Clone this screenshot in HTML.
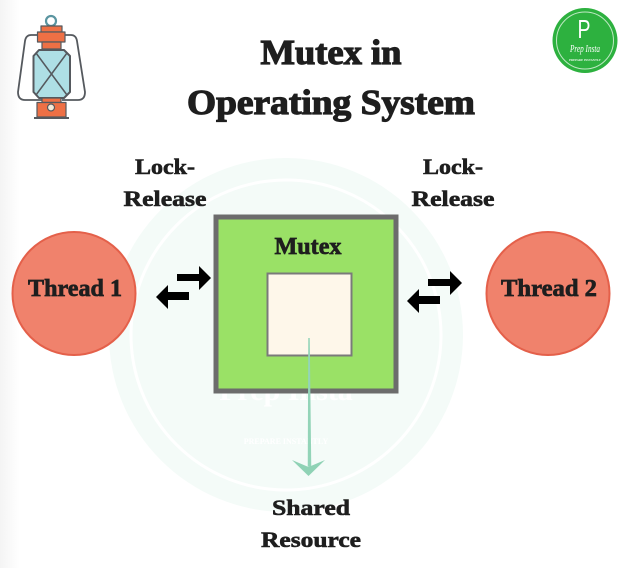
<!DOCTYPE html>
<html>
<head>
<meta charset="utf-8">
<style>
html,body{margin:0;padding:0;background:#fff}
svg{display:block}
text{font-family:"Liberation Serif",serif;font-weight:bold;fill:#1e1e1e;stroke:#1e1e1e;text-anchor:middle}
.t{font-size:35px;stroke-width:1.200px}
.l{font-size:22px;stroke-width:.6px}
.n{font-size:24px;stroke-width:.7px}
</style>
</head>
<body>
<svg width="632" height="568" viewBox="0 0 632 568" xmlns="http://www.w3.org/2000/svg">
<defs>
<linearGradient id="g" x1="0" x2="1" y1="0" y2="0"><stop offset="0" stop-color="#f4f4f4"/><stop offset="1" stop-color="#fff"/></linearGradient>
</defs>
<rect width="632" height="568" fill="#fff"/>
<rect width="20" height="568" fill="url(#g)"/>
<!-- watermark -->
<circle cx="286" cy="335" r="177" fill="#f4fbf8"/>
<circle cx="286" cy="335" r="155" fill="none" stroke="#fff" stroke-width="3"/>
<text x="286" y="400" font-size="30" style="fill:#fff;stroke:none">Prep Insta</text>
<text x="286" y="444" font-size="8" style="fill:#fff;stroke:none">PREPARE INSTANTLY</text>
<!-- lantern -->
<g stroke="#55595e" stroke-linejoin="round">
<path d="M38 35 H31 Q26 35 25 41 L18 92 Q18 100 25 100 H42 M65 35 H71 Q76 35 77 41 L85 92 Q85 100 78 100 H62" fill="none" stroke-width="1.800"/>
<circle cx="51" cy="21" r="5" fill="none" stroke="#5a95a0" stroke-width="2.200"/>
<rect x="41" y="26" width="21" height="6" fill="#ee7045" stroke-width="1.200"/>
<rect x="37.500" y="32" width="27.500" height="10" fill="#ee7045" stroke-width="1.200"/>
<rect x="42" y="42" width="19" height="7" fill="#ee7045" stroke-width="1.200"/>
<path d="M39 50 H64 L70 56 V92 L64 98 H39 L33.500 92 V56 Z" fill="#aedfe5" stroke-width="2"/>
<path d="M36 53 L67 95 M67 53 L36 95" stroke-width="1.500" fill="none"/>
<rect x="42" y="98" width="19" height="4.500" fill="#ee7045" stroke-width="1.200"/>
<rect x="37" y="102.500" width="29" height="14.500" fill="#ee7045" stroke-width="1.200"/>
<circle cx="51" cy="107.500" r="3.500" fill="#f5ead8" stroke-width="1.200"/>
<path d="M34 118 H69" stroke-width="2"/>
</g>
<!-- logo -->
<circle cx="585" cy="40.500" r="32.500" fill="#2db13f"/>
<circle cx="585" cy="40.500" r="28.500" fill="none" stroke="#bfe8c4" stroke-width="1"/>
<text x="584" y="38" font-size="26" textLength="13" lengthAdjust="spacingAndGlyphs" style="font-family:'Liberation Sans',sans-serif;fill:#fff;stroke:none;font-weight:normal">P</text>
<text x="585" y="52" font-size="10" font-style="italic" textLength="30" lengthAdjust="spacingAndGlyphs" style="fill:#fff;stroke:none;font-weight:normal">Prep Insta</text>
<text x="585" y="61" font-size="3" style="fill:#e8f7ea;stroke:none">PREPARE INSTANTLY</text>
<!-- title -->
<text class="t" x="331" y="64" textLength="141" lengthAdjust="spacingAndGlyphs">Mutex in</text>
<text class="t" x="331" y="114" textLength="288" lengthAdjust="spacingAndGlyphs">Operating System</text>
<!-- labels -->
<text class="l" x="165" y="174" textLength="60" lengthAdjust="spacingAndGlyphs">Lock-</text>
<text class="l" x="165" y="206" textLength="83" lengthAdjust="spacingAndGlyphs">Release</text>
<text class="l" x="453" y="174" textLength="60" lengthAdjust="spacingAndGlyphs">Lock-</text>
<text class="l" x="453" y="206" textLength="83" lengthAdjust="spacingAndGlyphs">Release</text>
<!-- threads -->
<circle cx="74" cy="293.500" r="61.500" fill="#f0826c" stroke="#e4604a" stroke-width="2"/>
<circle cx="548" cy="293.500" r="61.500" fill="#f0826c" stroke="#e4604a" stroke-width="2"/>
<text class="n" x="75" y="296" textLength="94" lengthAdjust="spacingAndGlyphs">Thread 1</text>
<text class="n" x="549" y="296" textLength="96" lengthAdjust="spacingAndGlyphs">Thread 2</text>
<!-- mutex -->
<rect x="216" y="217" width="180" height="174" fill="#9ae166" stroke="#6c6c6c" stroke-width="5"/>
<text class="n" x="308" y="254" textLength="67" lengthAdjust="spacingAndGlyphs">Mutex</text>
<rect x="267.500" y="273.500" width="84" height="82" fill="#fef7ea" stroke="#7a7a7a" stroke-width="2"/>
<!-- arrows -->
<g fill="#000">
<path d="M177 274 H199 V266 L211 278 L199 290 V281 H177 Z"/>
<path d="M189 292 H168 V285 L156 297 L168 309 V300 H189 Z"/>
<path d="M428 279 H450 V271 L462 283 L450 295 V286 H428 Z"/>
<path d="M440 296 H419 V289 L407 301 L419 313 V304 H440 Z"/>
</g>
<!-- shared arrow -->
<path d="M309 338 L310.500 466 L308.500 466 Z" fill="#93d4b8" stroke="#93d4b8" stroke-width="1.500"/>
<path d="M292 460 L308.500 467 L325 460 L308.500 476 Z" fill="#8fd2b5"/>
<text class="l" x="311" y="515" textLength="78" lengthAdjust="spacingAndGlyphs">Shared</text>
<text class="l" x="311" y="547" textLength="100" lengthAdjust="spacingAndGlyphs">Resource</text>
</svg>
</body>
</html>
